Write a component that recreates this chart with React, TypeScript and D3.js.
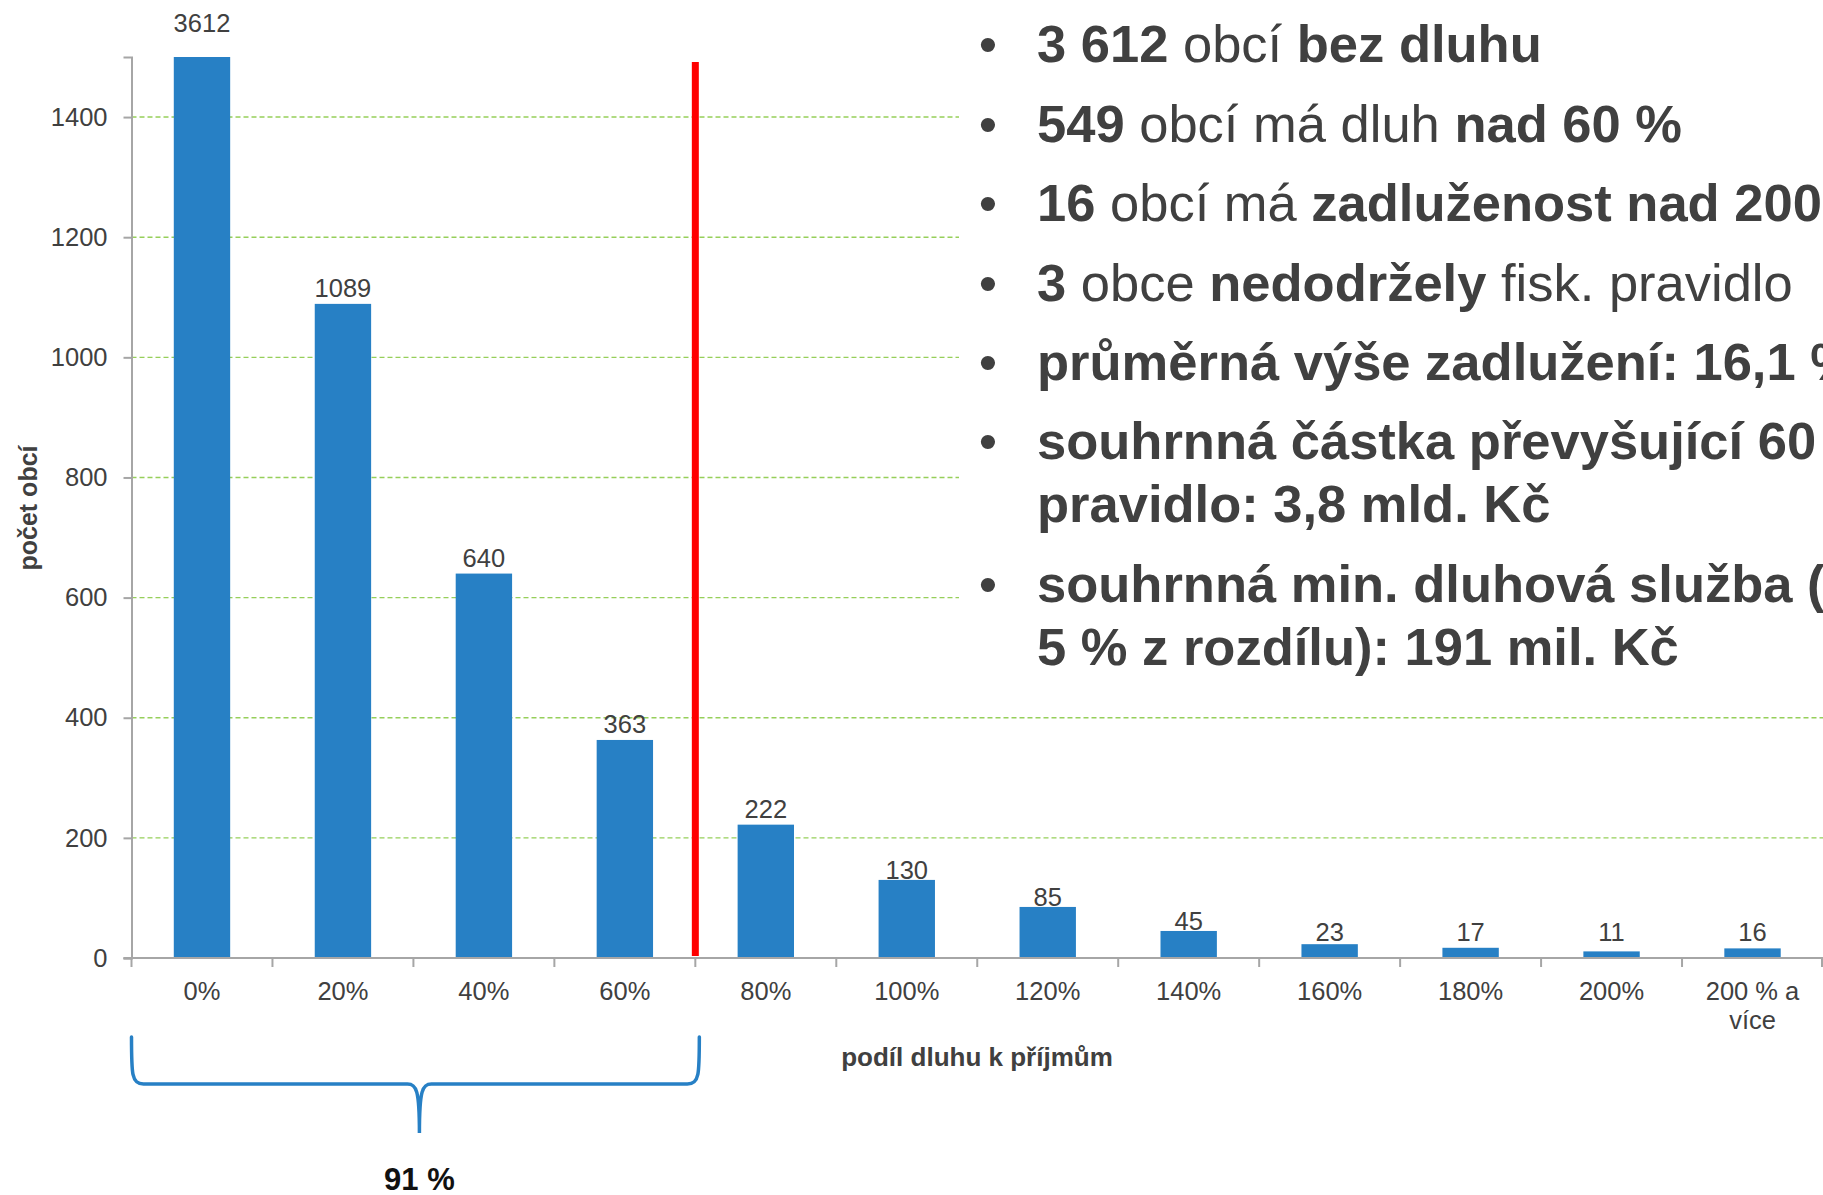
import { useEffect, useRef } from "react";
import * as d3 from "d3";

// podíl dluhu k příjmům – kategorie a počty obcí
const categories = ["0%", "20%", "40%", "60%", "80%", "100%", "120%", "140%", "160%", "180%", "200%", "200 % a více"];
const counts = [3612, 1089, 640, 363, 222, 130, 85, 45, 23, 17, 11, 16];
const yTicks = [0, 200, 400, 600, 800, 1000, 1200, 1400];
const yMax = 1500;
const ruleAfter = "60%"; // red line after this category
const braceLabel = "91 %";

const xTitle = "podíl dluhu k příjmům";
const yTitle = "počet obcí";

// text on the right: [text, bold]
type Part = [string, boolean];
const bulletLines: { bullet: boolean; parts: Part[] }[] = [
  { bullet: true, parts: [["3 612", true], [" obcí ", false], ["bez dluhu", true]] },
  { bullet: true, parts: [["549", true], [" obcí má dluh ", false], ["nad 60 %", true]] },
  { bullet: true, parts: [["16", true], [" obcí má ", false], ["zadluženost nad 200 %", true]] },
  { bullet: true, parts: [["3", true], [" obce ", false], ["nedodržely", true], [" fisk. pravidlo", false]] },
  { bullet: true, parts: [["průměrná výše zadlužení: 16,1 %", true]] },
  { bullet: true, parts: [["souhrnná částka převyšující 60 %", true]] },
  { bullet: false, parts: [["pravidlo: 3,8 mld. Kč", true]] },
  { bullet: true, parts: [["souhrnná min. dluhová služba (", true]] },
  { bullet: false, parts: [["5 % z rozdílu): 191 mil. Kč", true]] },
];

const W = 1823;
const H = 1195;
const FONT = "'Liberation Sans', Arial, sans-serif";
const TEXT = "#404040";
const BLUE = "#2780C5";

export default function App() {
  const ref = useRef<SVGSVGElement>(null);

  useEffect(() => {
    const svg = d3.select(ref.current);
    svg.selectAll("*").remove();

    const left = 131.5;
    const top = 57;
    const bottom = 958;

    const x = d3.scaleBand().domain(categories).range([left, W]).paddingInner(0.6).paddingOuter(0.3);
    const xb = d3.scaleBand().domain(categories).range([left, W]); // full bands for ticks
    const y = d3.scaleLinear().domain([0, yMax]).range([bottom, top]);

    svg.append("rect").attr("width", W).attr("height", H).attr("fill", "#fff");

    // gridlines
    svg.append("g")
      .selectAll("line")
      .data(yTicks.filter((t) => t > 0))
      .join("line")
      .attr("x1", left)
      .attr("x2", W)
      .attr("y1", (d) => y(d))
      .attr("y2", (d) => y(d))
      .attr("stroke", "#96CF5A")
      .attr("stroke-width", 1.4)
      .attr("stroke-dasharray", "5,3");

    // bars (clipped at the top of the axis)
    svg.append("g")
      .selectAll("rect")
      .data(counts)
      .join("rect")
      .attr("x", (_, i) => x(categories[i])!)
      .attr("width", x.bandwidth())
      .attr("y", (d) => y(Math.min(d, yMax)))
      .attr("height", (d) => bottom - y(Math.min(d, yMax)))
      .attr("fill", BLUE);

    // value labels
    svg.append("g")
      .selectAll("text")
      .data(counts)
      .join("text")
      .attr("x", (_, i) => x(categories[i])! + x.bandwidth() / 2)
      .attr("y", (d) => (d > yMax ? top - 25 : Math.min(y(d) - (d < 200 ? 1 : 7), 941)))
      .attr("text-anchor", "middle")
      .attr("fill", TEXT)
      .style("font-family", FONT)
      .style("font-size", "25.5px")
      .text((d) => d);

    // y axis
    const yAxis = d3.axisLeft(y).tickValues(yTicks).tickSize(8).tickPadding(16).tickFormat((d) => String(d));
    const gy = svg.append("g").attr("transform", `translate(${left},0)`).call(yAxis);
    gy.select(".domain").attr("stroke", "#A6A6A6").attr("stroke-width", 2);
    gy.selectAll(".tick line").attr("stroke", "#A6A6A6").attr("stroke-width", 2);
    gy.selectAll(".tick text").attr("fill", TEXT).style("font-family", FONT).style("font-size", "25.5px");

    // x axis line + ticks at band edges
    svg.append("line")
      .attr("x1", left - 8).attr("x2", W)
      .attr("y1", bottom).attr("y2", bottom)
      .attr("stroke", "#A6A6A6").attr("stroke-width", 2);
    const edges = categories.map((c) => xb(c)!).concat([W - 1]);
    svg.append("g")
      .selectAll("line")
      .data(edges)
      .join("line")
      .attr("x1", (d) => d).attr("x2", (d) => d)
      .attr("y1", bottom).attr("y2", bottom + 9)
      .attr("stroke", "#A6A6A6").attr("stroke-width", 2);

    // category labels
    const cat = svg.append("g")
      .selectAll("text")
      .data(categories)
      .join("text")
      .attr("x", (d) => xb(d)! + xb.bandwidth() / 2)
      .attr("y", 1000)
      .attr("text-anchor", "middle")
      .attr("fill", TEXT)
      .style("font-family", FONT)
      .style("font-size", "25.5px");
    cat.each(function (d) {
      const words = d === "200 % a více" ? ["200 % a", "více"] : [d];
      const t = d3.select(this);
      words.forEach((w, i) => {
        t.append("tspan").attr("x", xb(d)! + xb.bandwidth() / 2).attr("dy", i === 0 ? 0 : 29).text(w);
      });
    });

    // axis titles
    svg.append("text")
      .attr("x", 977).attr("y", 1066)
      .attr("text-anchor", "middle")
      .attr("fill", TEXT)
      .style("font-family", FONT).style("font-size", "26px").style("font-weight", "bold")
      .text(xTitle);
    svg.append("text")
      .attr("transform", "translate(37,508) rotate(-90)")
      .attr("text-anchor", "middle")
      .attr("fill", TEXT)
      .style("font-family", FONT).style("font-size", "25px").style("font-weight", "bold")
      .text(yTitle);

    // red limit line
    const rx = xb(categories[categories.indexOf(ruleAfter) + 1])!;
    svg.append("line")
      .attr("x1", rx).attr("x2", rx)
      .attr("y1", 62).attr("y2", bottom - 2)
      .attr("stroke", "#FF0000").attr("stroke-width", 7);

    // brace under the first four categories
    const x0 = left;
    const x1 = rx + 4;
    const xm = (x0 + x1) / 2 + 4;
    const yt = 1037, yh = 1084, yp = 1133;
    const p = d3.path();
    p.moveTo(x0, yt);
    p.bezierCurveTo(x0, yh - 10, x0, yh, x0 + 12, yh);
    p.lineTo(xm - 12, yh);
    p.bezierCurveTo(xm - 3, yh, xm, yh + 6, xm, yp);
    p.bezierCurveTo(xm, yh + 6, xm + 3, yh, xm + 12, yh);
    p.lineTo(x1 - 12, yh);
    p.bezierCurveTo(x1, yh, x1, yh - 10, x1, yt);
    svg.append("path")
      .attr("d", p.toString())
      .attr("fill", "none")
      .attr("stroke", BLUE)
      .attr("stroke-width", 3.5)
      .attr("stroke-linecap", "round");
    svg.append("text")
      .attr("x", xm).attr("y", 1190)
      .attr("text-anchor", "middle")
      .attr("fill", "#111")
      .style("font-family", FONT).style("font-size", "31px").style("font-weight", "bold")
      .text(braceLabel);

    // text block with white background
    svg.append("rect").attr("x", 959).attr("y", 0).attr("width", W - 959).attr("height", 700).attr("fill", "#fff");
    const baselines = [62, 142, 221, 301, 380, 459, 522, 602, 665];
    const tb = svg.append("g").style("font-family", FONT).style("font-size", "52.5px").attr("fill", TEXT);
    bulletLines.forEach((ln, i) => {
      if (ln.bullet) {
        tb.append("text").attr("x", 988).attr("y", baselines[i]).attr("text-anchor", "middle").text("•");
      }
      const t = tb.append("text").attr("x", 1037).attr("y", baselines[i]);
      ln.parts.forEach(([s, b]) => {
        t.append("tspan").style("font-weight", b ? "bold" : "normal").text(s);
      });
    });
  }, []);

  return (
    <svg
      ref={ref}
      width={W}
      height={H}
      style={{ position: "absolute", left: 0, top: 0, display: "block" }}
    />
  );
}
